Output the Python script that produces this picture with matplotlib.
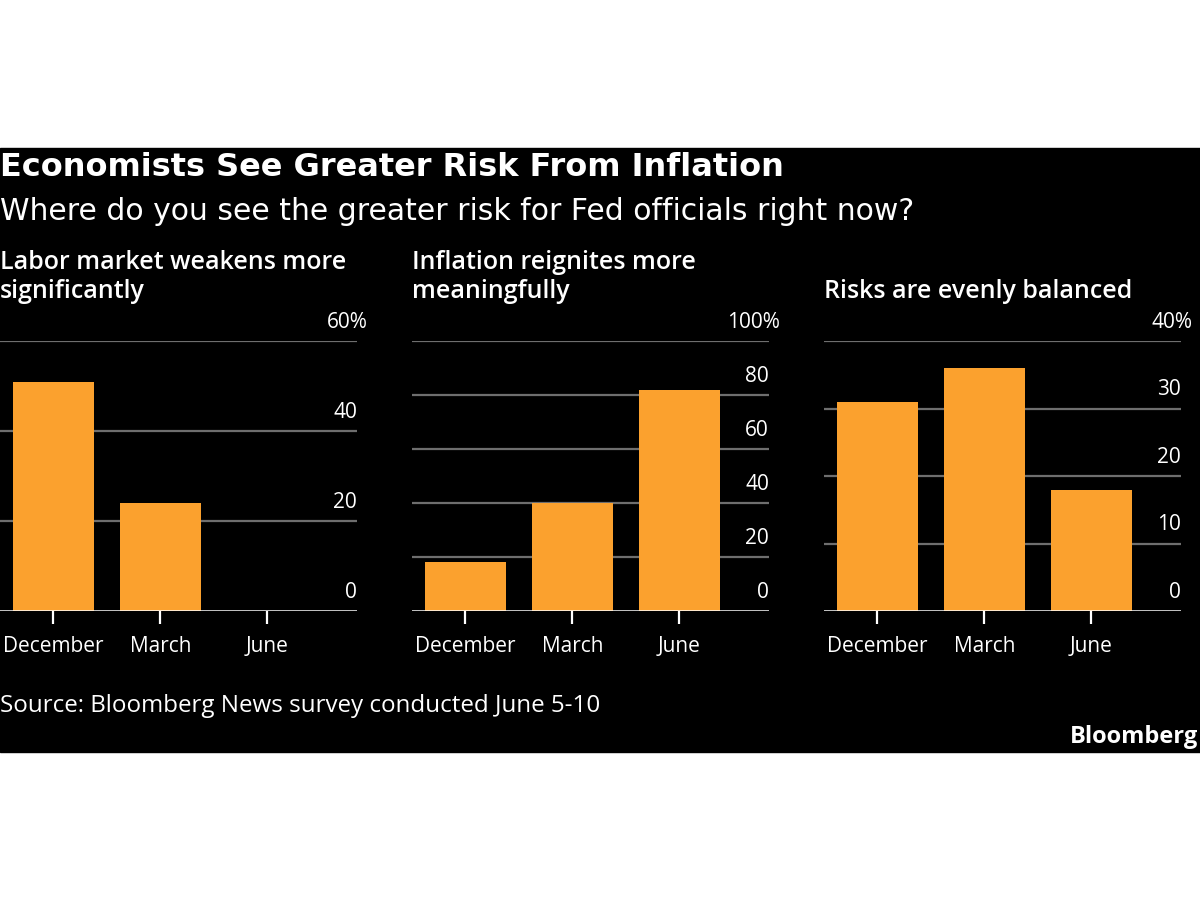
import matplotlib.pyplot as plt
from matplotlib.patches import Rectangle
from matplotlib.transforms import blended_transform_factory, offset_copy

# data
months = ['December', 'March', 'June']
labor = [51, 24, 0]
inflation = [18, 40, 82]
balanced = [31, 36, 18]
panel_titles = ['Labor market weakens more\nsignificantly',
                'Inflation reignites more\nmeaningfully',
                '\nRisks are evenly balanced']
ticks_list = [[0, 20, 40, 60], [0, 20, 40, 60, 80, 100], [0, 10, 20, 30, 40]]
series = [labor, inflation, balanced]

plt.rcParams['font.family'] = ['Open Sans', 'DejaVu Sans']

fig = plt.figure(figsize=(12, 9), dpi=100)
fig.patch.set_facecolor('white')
# black band behind everything
fig.patches.append(Rectangle((0, 1 - 752 / 900), 1, (752 - 148) / 900,
                             transform=fig.transFigure, color='black', zorder=-10))

fig.text(0.0, 1 - 168 / 900, 'Economists See Greater Risk From Inflation', color='white',
         fontsize=23, fontweight='bold', family='DejaVu Sans', va='center', ha='left')
fig.text(0.0, 1 - 211 / 900, 'Where do you see the greater risk for Fed officials right now?',
         color='white', fontsize=21.5, family='DejaVu Sans', va='center', ha='left')

lefts = [0, 412, 824]
width = 357
bar_col = '#fba12e'
grid_col = '#6e6e6e'

for i in range(3):
    ax = fig.add_axes([lefts[i] / 1200, 1 - 611 / 900, width / 1200, 270 / 900])
    ax.set_facecolor('black')
    x = list(range(len(months)))
    ax.bar(x, series[i], width=0.76, color=bar_col, zorder=3)
    ax.set_xlim(-0.5, 2.84)
    tk = ticks_list[i]
    ax.set_ylim(0, tk[-1])
    for t in tk[1:]:
        ax.axhline(t, color=grid_col, lw=1.6, zorder=1)
    ax.axhline(0, color='white', lw=1.8, zorder=4)
    for s in ax.spines.values():
        s.set_visible(False)
    ax.set_yticks([])
    ax.set_xticks(x)
    ax.set_xticklabels(months, color='white', fontsize=15)
    ax.tick_params(axis='x', colors='white', length=9, width=1.6, pad=9)
    tr = offset_copy(blended_transform_factory(ax.transAxes, ax.transData),
                     fig=fig, y=6, units='points')
    for t in tk:
        lab = str(t) + ('%' if t == tk[-1] else '')
        xpos = 1.0 if t != tk[-1] else 1.0 + 11 / width
        ax.text(xpos, t, lab, transform=tr, ha='right', va='bottom',
                color='white', fontsize=15, clip_on=False)
    fig.text(lefts[i] / 1200, 1 - 277 / 900, panel_titles[i], color='white',
             fontsize=18, fontweight='semibold', va='center', ha='left', linespacing=1.2)

fig.text(0.0, 1 - 706 / 900, 'Source: Bloomberg News survey conducted June 5-10',
         color='white', fontsize=17.4, va='center', ha='left')
fig.text(1 - 2 / 1200, 1 - 737 / 900, 'Bloomberg', color='white', fontsize=17,
         fontweight='bold', va='center', ha='right')

fig.savefig('out.png', dpi=100, facecolor=fig.get_facecolor())
